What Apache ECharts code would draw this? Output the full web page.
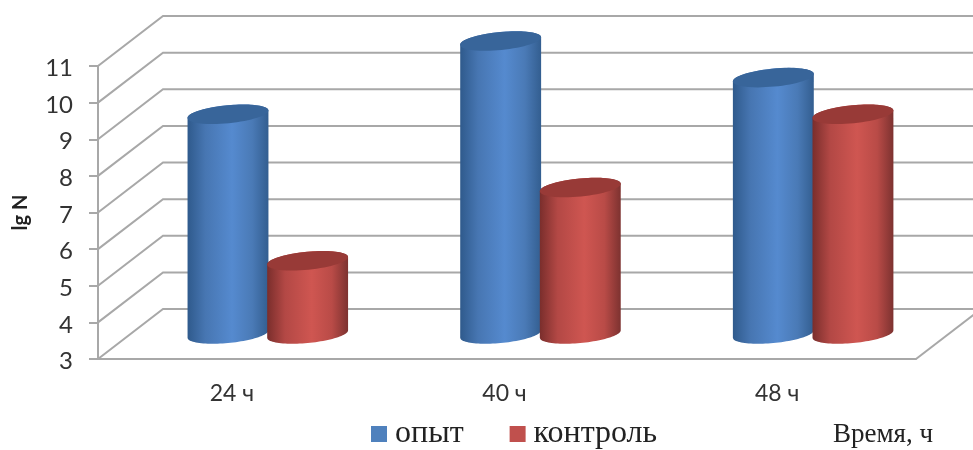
<!DOCTYPE html>
<html>
<head>
<meta charset="utf-8">
<style>html,body{margin:0;padding:0;background:#fff}#chart{width:973px;height:450px}</style>
<script src="https://cdn.jsdelivr.net/npm/echarts@6/dist/echarts.min.js"></script>
</head>
<body>
<div id="chart"></div>
<script>
// Bacterial count (lg N) by time point
const categories = ['24 ч', '40 ч', '48 ч'];
const opyt = [9, 11, 10];
const kontrol = [5, 7, 9];
const yTicks = [3, 4, 5, 6, 7, 8, 9, 10, 11];

// Oblique projection used for the pseudo-3D box
const DEPTH_X = 65;
const DEPTH_Y = -50;
const TILT = -5.5 * Math.PI / 180;
const AXIS_GRAY = '#a8a8a8';

const blue = {
  top: '#38659a',
  stops: [[0, '#2f5a8c'], [0.22, '#4776b2'], [0.55, '#558acf'], [0.8, '#4a7ab6'], [1, '#335e90']]
};
const red = {
  top: '#983a37',
  stops: [[0, '#7a2e2c'], [0.22, '#b34845'], [0.55, '#cf5651'], [0.8, '#b94b47'], [1, '#7d3230']]
};

function ellipsePoint(cx, cy, rx, ry, t) {
  const x = rx * Math.cos(t), y = ry * Math.sin(t);
  return [cx + x * Math.cos(TILT) - y * Math.sin(TILT), cy + x * Math.sin(TILT) + y * Math.cos(TILT)];
}

function cylinder(palette, side) {
  return function (params, api) {
    const cat = api.value(0);
    const band = api.size([1, 0])[0];
    const rx = band * 0.149;
    const ry = 9;
    const shift = side * band * 0.146;
    const top = api.coord([cat, api.value(1)]);
    const base = api.coord([cat, yTicks[0]]);
    const cx = top[0] + DEPTH_X * 0.515 + shift;
    const topY = top[1] + DEPTH_Y / 2;
    const baseY = base[1] + DEPTH_Y / 2;

    // Silhouette: the upper half of the top rim, then the lower half of the base rim
    const edge = Math.atan2(-ry * Math.sin(TILT), rx * Math.cos(TILT));
    const outline = [];
    const steps = 48;
    for (let i = 0; i <= steps; i++) {
      outline.push(ellipsePoint(cx, baseY, rx, ry, edge + Math.PI * i / steps));
    }
    for (let i = 0; i <= steps; i++) {
      outline.push(ellipsePoint(cx, topY, rx, ry, edge + Math.PI + Math.PI * i / steps));
    }
    return {
      type: 'group',
      children: [
        {
          type: 'polygon',
          shape: { points: outline },
          style: {
            fill: new echarts.graphic.LinearGradient(0, 0, 1, 0,
              palette.stops.map(s => ({ offset: s[0], color: s[1] })))
          }
        },
        {
          type: 'ellipse',
          shape: { cx: 0, cy: 0, rx: rx, ry: ry },
          x: cx,
          y: topY,
          rotation: -TILT,
          style: { fill: palette.top }
        }
      ]
    };
  };
}

function wallLine(params, api) {
  const y = api.coord([0, api.value(0)])[1];
  const left = params.coordSys.x;
  const right = left + params.coordSys.width;
  return {
    type: 'polyline',
    shape: { points: [[left, y], [left + DEPTH_X, y + DEPTH_Y], [right + DEPTH_X, y + DEPTH_Y]] },
    style: { fill: null, stroke: AXIS_GRAY, lineWidth: 2 }
  };
}

function floorEdge(params, api) {
  const right = params.coordSys.x + params.coordSys.width;
  const y = api.coord([0, api.value(0)])[1];
  return {
    type: 'line',
    shape: { x1: right, y1: y, x2: right + DEPTH_X, y2: y + DEPTH_Y },
    style: { stroke: AXIS_GRAY, lineWidth: 2 }
  };
}

const chart = echarts.init(document.getElementById('chart'));
chart.setOption({
  animation: false,
  backgroundColor: '#ffffff',
  grid: { left: 98, right: 57, top: 66, bottom: 91 },
  xAxis: {
    type: 'category',
    data: categories,
    boundaryGap: true,
    axisLine: { lineStyle: { color: AXIS_GRAY, width: 2 } },
    axisTick: { length: 6, lineStyle: { color: AXIS_GRAY, width: 2 } },
    axisLabel: { color: '#333', fontFamily: 'Lato', fontSize: 23, margin: 23, padding: [0, 5, 0, 0] }
  },
  yAxis: {
    type: 'value',
    min: 3,
    max: 11,
    interval: 1,
    name: 'lg N',
    nameLocation: 'middle',
    nameGap: 67,
    nameTextStyle: { color: '#222', fontFamily: 'Lato', fontWeight: 'bold', fontSize: 20 },
    splitLine: { show: false },
    axisLine: { show: true, lineStyle: { color: AXIS_GRAY, width: 2 } },
    axisTick: { show: true, length: 9, lineStyle: { color: AXIS_GRAY, width: 2 } },
    axisLabel: {
      margin: 25,
      formatter: '{tick|{value}}',
      rich: { tick: { color: '#333', fontFamily: 'Lato', fontSize: 24, padding: [5, 0, 0, 0] } }
    }
  },
  legend: {
    left: 371,
    top: 418,
    itemWidth: 16,
    itemHeight: 16,
    itemGap: 46,
    icon: 'rect',
    padding: 0,
    data: ['опыт', 'контроль'],
    textStyle: { color: '#222', fontFamily: 'Liberation Serif', fontSize: 32, padding: [8, 0, 0, 3] }
  },
  graphic: [{
    type: 'text',
    x: 833,
    y: 421,
    style: { text: 'Время, ч', fill: '#222', font: '27px "Liberation Serif"' }
  }],
  series: [
    {
      type: 'custom',
      name: 'стенки',
      renderItem: wallLine,
      silent: true,
      z: 1,
      data: yTicks.map(v => [v]),
      encode: { y: 0 }
    },
    {
      type: 'custom',
      name: 'пол',
      renderItem: floorEdge,
      silent: true,
      z: 1,
      data: [[yTicks[0]]],
      encode: { y: 0 }
    },
    {
      type: 'custom',
      name: 'опыт',
      renderItem: cylinder(blue, -1),
      itemStyle: { color: '#4f81bd' },
      z: 3,
      data: opyt.map((v, i) => [i, v]),
      encode: { x: 0, y: 1 }
    },
    {
      type: 'custom',
      name: 'контроль',
      renderItem: cylinder(red, 1),
      itemStyle: { color: '#c0504d' },
      z: 4,
      data: kontrol.map((v, i) => [i, v]),
      encode: { x: 0, y: 1 }
    }
  ]
});
</script>
</body>
</html>
